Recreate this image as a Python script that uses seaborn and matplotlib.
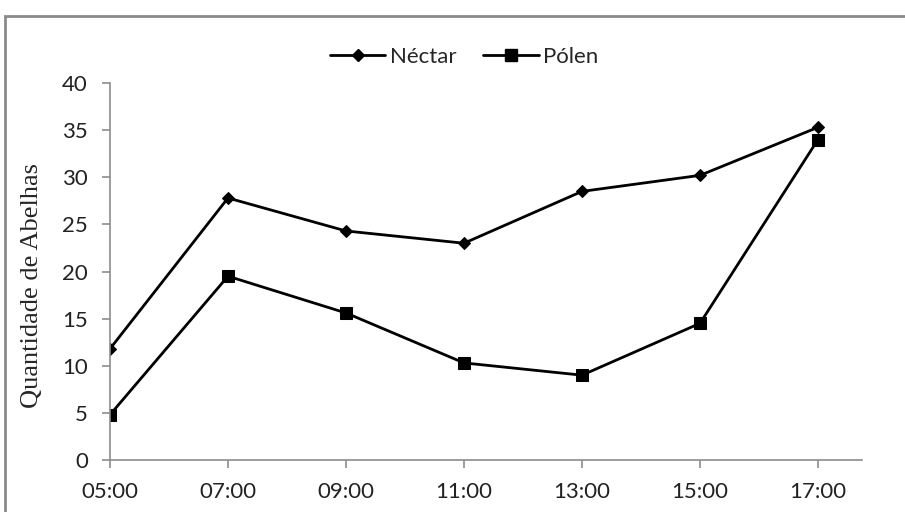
import pandas as pd
import matplotlib.pyplot as plt
from matplotlib.lines import Line2D
from matplotlib.patches import Rectangle
import seaborn as sns

horas = ['05:00', '07:00', '09:00', '11:00', '13:00', '15:00', '17:00']
nectar = [11.8, 27.8, 24.3, 23.0, 28.5, 30.2, 35.3]
polen = [4.8, 19.5, 15.6, 10.3, 9.0, 14.5, 34.0]

df = pd.DataFrame({
    'pos': list(range(len(horas))) * 2,
    'valor': nectar + polen,
    'serie': ['Néctar'] * len(horas) + ['Pólen'] * len(horas),
})

sns.set_style('white')
plt.rcParams['font.family'] = ['Lato', 'DejaVu Sans']

fig = plt.figure(figsize=(9.05, 5.12), dpi=100)
ax = fig.add_axes([110 / 905, 1 - 460 / 512, (862 - 110) / 905, (460 - 83) / 512])

sns.lineplot(data=df, x='pos', y='valor', hue='serie', style='serie',
             palette=['black', 'black'], markers={'Néctar': 'D', 'Pólen': 's'},
             dashes=False, linewidth=2.0, markersize=8, markeredgecolor='black',
             ax=ax, legend=False)
# diamond a bit smaller than the square
for line, ms in zip(ax.get_lines(), [6.5, 8.5]):
    line.set_markersize(ms)

ax.set_xlim(0, 6.373)
ax.set_ylim(0, 40)
ax.set_xticks(range(len(horas)))
ax.set_xticklabels(horas)
ax.set_yticks(range(0, 41, 5))
ax.set_xlabel('')
ax.set_ylabel('Quantidade de Abelhas', family='Liberation Serif', fontsize=19)
ax.yaxis.set_label_coords(-0.089, 0.464)

for s in ['top', 'right']:
    ax.spines[s].set_visible(False)
for s in ['left', 'bottom']:
    ax.spines[s].set_color('#8c8c8c')
    ax.spines[s].set_linewidth(1.2)
ax.tick_params(axis='both', which='major', direction='out', length=6, width=1.2,
               color='#8c8c8c', labelsize=16, labelcolor='#222222')
ax.tick_params(axis='x', pad=10, bottom=True)
ax.tick_params(axis='y', pad=10, left=True)

handles = [
    Line2D([], [], color='black', lw=2.0, marker='D', ms=6.5),
    Line2D([], [], color='black', lw=2.0, marker='s', ms=8.5),
]
fig.legend(handles, ['Néctar', 'Pólen'], loc='center', bbox_to_anchor=(464 / 905, 1 - 57 / 512),
           ncol=2, frameon=False, fontsize=16, handlelength=2.5, handletextpad=0.2,
           columnspacing=1.2)

# outer chart frame (cropped on right and bottom)
fig.patches.append(Rectangle((5 / 905, -0.1), 1.2, (512 - 16) / 512 + 0.1,
                             transform=fig.transFigure, fill=False,
                             edgecolor='#8a8a8a', linewidth=2, zorder=0))

fig.savefig('out.png', dpi=100)
